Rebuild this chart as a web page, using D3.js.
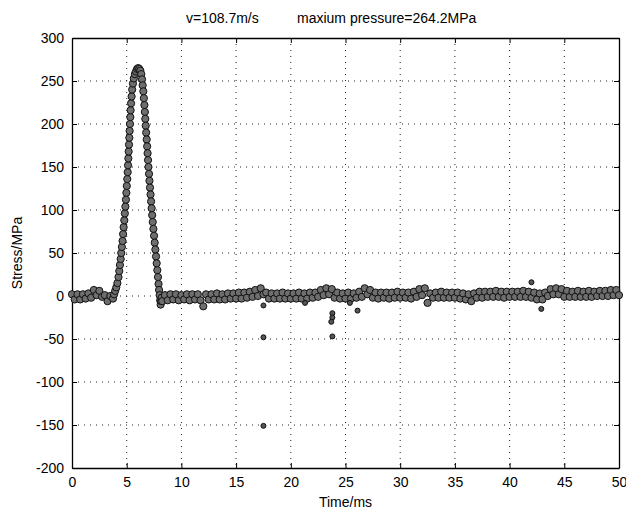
<!DOCTYPE html>
<html>
<head>
<meta charset="utf-8">
<script src="https://cdn.jsdelivr.net/npm/d3@7"></script>
<style>
body { margin: 0; background: #fff; }
text { font-family: "Liberation Sans", Arial, sans-serif; fill: #000; }
</style>
</head>
<body>
<script>
// readings taken off the plot, [time ms, stress MPa]
var beforePulse = [[0,2],[0.25,-4],[0.5,2],[0.75,-4],[1,2],[1.25,-3],[1.5,3],[1.75,-2],[2,7],[2.25,1],
	[2.5,6],[2.75,-1],[3,1],[3.25,-6],[3.5,0],[3.75,-3]];

var pulse = [[3.85,2],[3.95,6],[4.05,10],[4.15,15],[4.25,22],[4.32,29],[4.38,36],[4.45,43],[4.5,50],[4.56,57],
	[4.62,64],[4.67,72],[4.72,80],[4.78,88],[4.83,96],[4.88,104],[4.93,112],[4.97,120],[5.01,128],[5.05,136],
	[5.09,144],[5.12,152],[5.15,160],[5.18,168],[5.21,176],[5.24,184],[5.27,192],[5.3,200],[5.33,208],[5.36,216],
	[5.4,224],[5.45,232],[5.5,240],[5.57,247],[5.65,253],[5.75,258],[5.85,261],[5.95,264],[6.05,265],[6.15,264],
	[6.25,262],[6.33,258],[6.4,252],[6.46,245],[6.52,238],[6.57,230],[6.62,222],[6.66,214],[6.7,206],[6.74,198],
	[6.78,190],[6.83,182],[6.87,174],[6.91,166],[6.95,158],[6.99,150],[7.04,142],[7.08,134],[7.13,126],[7.18,118],
	[7.23,110],[7.28,102],[7.33,94],[7.38,86],[7.44,78],[7.5,70],[7.56,62],[7.62,54],[7.68,46],[7.74,38],
	[7.8,30],[7.86,22],[7.91,14],[7.96,7],[8.01,1],[8.06,-5],[8.1,-10],[8.15,-6],[8.2,-2]];

var afterPulse = [[8.25,-6],[8.5,1],[8.75,-5],[9,2],[9.25,-4],[9.5,2],[9.75,-5],[10,1],[10.25,-4],[10.5,2],
	[10.75,-5],[11,2],[11.25,-4],[11.5,2],[11.75,-5],[12,-12],[12.25,2],[12.5,-4],[12.75,2],[13,-4],
	[13.25,3],[13.5,-4],[13.75,2],[14,-4],[14.25,3],[14.5,-3],[14.75,3],[15,-3],[15.25,4],[15.5,-3],
	[15.75,4],[16,-2],[16.25,5],[16.5,-1],[16.75,7],[17,0],[17.25,9],[17.5,2],[17.75,4],[18,-3],
	[18.25,3],[18.5,-3],[18.75,3],[19,-3],[19.25,4],[19.5,-3],[19.75,3],[20,-3],[20.25,3],[20.5,-3],
	[20.75,4],[21,-3],[21.25,3],[21.5,-3],[21.75,4],[22,-2],[22.25,4],[22.5,-1],[22.75,7],[23,1],
	[23.25,9],[23.5,2],[23.75,8],[24,-2],[24.25,4],[24.5,-3],[24.75,3],[25,-3],[25.25,4],[25.5,-3],
	[25.75,3],[26,-2],[26.25,5],[26.5,-1],[26.75,9],[27,2],[27.25,7],[27.5,-2],[27.75,4],[28,-3],
	[28.25,4],[28.5,-2],[28.75,4],[29,-3],[29.25,4],[29.5,-2],[29.75,5],[30,-2],[30.25,4],[30.5,-2],
	[30.75,4],[31,-3],[31.25,5],[31.5,-1],[31.75,8],[32,1],[32.25,9],[32.5,-8],[32.75,3],[33,-2],
	[33.25,4],[33.5,-2],[33.75,5],[34,-2],[34.25,4],[34.5,-2],[34.75,4],[35,-2],[35.25,4],[35.5,-3],
	[35.75,3],[36,-4],[36.25,2],[36.5,-6],[36.75,3],[37,-2],[37.25,5],[37.5,-2],[37.75,5],[38,-1],
	[38.25,5],[38.5,-1],[38.75,6],[39,-1],[39.25,5],[39.5,-2],[39.75,5],[40,-1],[40.25,5],[40.5,-1],
	[40.75,5],[41,-1],[41.25,6],[41.5,-1],[41.75,5],[42,-2],[42.25,4],[42.5,-4],[42.75,3],[43,-4],
	[43.25,4],[43.5,0],[43.75,8],[44,2],[44.25,9],[44.5,2],[44.75,8],[45,-1],[45.25,6],[45.5,-1],
	[45.75,5],[46,-1],[46.25,6],[46.5,-1],[46.75,5],[47,-1],[47.25,6],[47.5,-1],[47.75,5],[48,0],
	[48.25,6],[48.5,0],[48.75,6],[49,0],[49.25,7],[49.5,1],[49.75,7],[50,1]];

var outliers = [[17.5,-11],[17.5,-48],[17.5,-151],[21.3,-8],[23.8,-20],[23.8,-25],[23.7,-30],[23.8,-47],
	[25.4,-8],[26.1,-17],[42,16],[42.9,-15]];

var xTicks = [0,5,10,15,20,25,30,35,40,45,50];
var yTicks = [-200,-150,-100,-50,0,50,100,150,200,250,300];

var plotLeft = 72, plotRight = 619, plotTop = 38, plotBottom = 468;

var svg = d3.select("body").append("svg")
	.attr("width", 626)
	.attr("height", 512);

svg.append("rect").attr("width", 626).attr("height", 512).attr("fill", "#fff");

var x = d3.scaleLinear().domain([0, 50]).range([plotLeft, plotRight]);
var y = d3.scaleLinear().domain([-200, 300]).range([plotBottom, plotTop]);

// dotted grid
svg.selectAll("line.vgrid")
	.data(xTicks.slice(1, -1))
	.enter().append("line")
		.attr("class", "vgrid")
		.attr("x1", function(d){ return x(d); })
		.attr("x2", function(d){ return x(d); })
		.attr("y1", plotTop).attr("y2", plotBottom)
		.attr("stroke", "#222").attr("stroke-width", 1)
		.attr("stroke-dasharray", "1,5");

svg.selectAll("line.hgrid")
	.data(yTicks.slice(1, -1))
	.enter().append("line")
		.attr("class", "hgrid")
		.attr("y1", function(d){ return y(d); })
		.attr("y2", function(d){ return y(d); })
		.attr("x1", plotLeft).attr("x2", plotRight)
		.attr("stroke", "#222").attr("stroke-width", 1)
		.attr("stroke-dasharray", "1,5");

// axes, ticks pointing in, plain hyphen minus like the original
var plain = function(d){ return String(d); };
svg.append("g").attr("transform", "translate(0," + plotBottom + ")")
	.call(d3.axisBottom(x).tickValues(xTicks).tickFormat(plain).tickSizeInner(-5).tickSizeOuter(0).tickPadding(9));
svg.append("g").attr("transform", "translate(0," + plotTop + ")")
	.call(d3.axisTop(x).tickValues(xTicks).tickSizeInner(-5).tickSizeOuter(0).tickFormat(""));
svg.append("g").attr("transform", "translate(" + plotLeft + ",0)")
	.call(d3.axisLeft(y).tickValues(yTicks).tickFormat(plain).tickSizeInner(-5).tickSizeOuter(0).tickPadding(8));
svg.append("g").attr("transform", "translate(" + plotRight + ",0)")
	.call(d3.axisRight(y).tickValues(yTicks).tickSizeInner(-5).tickSizeOuter(0).tickFormat(""));

svg.selectAll(".domain").attr("stroke", "#000").attr("stroke-width", 1.3);
svg.selectAll(".tick line").attr("stroke", "#000");
svg.selectAll(".tick text")
	.style("font-family", "'Liberation Sans', Arial, sans-serif")
	.style("font-size", "14px")
	.attr("fill", "#000");

// data points
var allPoints = beforePulse.concat(pulse, afterPulse);

svg.selectAll("circle.trace")
	.data(allPoints)
	.enter().append("circle")
		.attr("class", "trace")
		.attr("cx", function(d){ return x(d[0]); })
		.attr("cy", function(d){ return y(d[1]); })
		.attr("r", 3.6)
		.attr("fill", "#6e6e6e")
		.attr("stroke", "#111")
		.attr("stroke-width", 1);

svg.selectAll("circle.stray")
	.data(outliers)
	.enter().append("circle")
		.attr("class", "stray")
		.attr("cx", function(d){ return x(d[0]); })
		.attr("cy", function(d){ return y(d[1]); })
		.attr("r", 2.5)
		.attr("fill", "#555")
		.attr("stroke", "#111")
		.attr("stroke-width", 1);

// labels
svg.append("text").attr("x", 186).attr("y", 23)
	.style("font-size", "14px").text("v=108.7m/s");
svg.append("text").attr("x", 297).attr("y", 23)
	.style("font-size", "14px").text("maxium pressure=264.2MPa");

svg.append("text").attr("x", (plotLeft + plotRight) / 2).attr("y", 507)
	.attr("text-anchor", "middle").style("font-size", "14px").text("Time/ms");

svg.append("text")
	.attr("transform", "translate(22," + (plotTop + plotBottom) / 2 + ") rotate(-90)")
	.attr("text-anchor", "middle").style("font-size", "14px").text("Stress/MPa");
</script>
</body>
</html>
